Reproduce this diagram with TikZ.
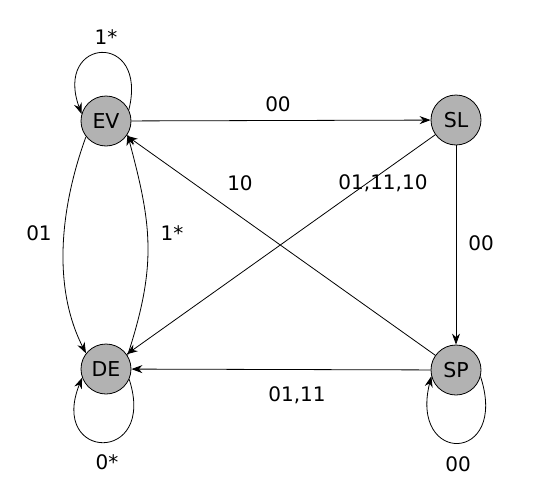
\documentclass[tikz,border=0pt]{standalone}
\usepackage{fontspec}
\setmainfont{DejaVu Sans}
\usetikzlibrary{arrows.meta}
\definecolor{stategray}{RGB}{178,178,178}
\begin{document}
\begin{tikzpicture}[x=1pt,y=1pt,
  state/.style={circle,draw=black,fill=stategray,minimum size=50pt,inner sep=0pt,line width=0.8pt,font=\fontsize{20.5}{24}\selectfont},
  edge/.style={line width=0.8pt,-{Stealth[length=11pt,width=8pt]}},
  lbl/.style={font=\fontsize{20}{24}\selectfont,inner sep=0pt}]
\useasboundingbox (0,0) rectangle (538,-498);
\node[state] (EV) at (106,-121) {EV};
\node[state] (SL) at (456,-120) {SL};
\node[state] (DE) at (106,-369) {DE};
\node[state] (SP) at (456,-370) {SP};
% straight edges
\draw[edge] (EV) -- (SL);
\draw[edge] (SL) -- (SP);
\draw[edge] (SP) -- (DE);
\draw[edge] (SP) -- (EV);
\draw[edge] (SL) -- (DE);
% curved edges
\draw[edge] (EV.-142) .. controls +(-110:75) and +(117:75) .. (DE.142);
\draw[edge] (DE.32) .. controls +(72:95) and +(-75:95) .. (EV.-32);
% loops
\draw[edge] (EV.26) .. controls +(76:82) and +(110:82) .. (EV.164);
\draw[edge] (DE.-24) .. controls +(-72:90) and +(-112:90) .. (DE.-160);
\draw[edge] (SP.-15) .. controls +(-72:92) and +(-104:92) .. (SP.-166);
% labels
\node[lbl] (l1) at (106,-37) {1*};
\node[lbl] (l2) at (278,-104) {00};
\node[lbl] (l3) at (240,-183) {10};
\node[lbl] (l4) at (383,-183) {01,11,10};
\node[lbl] (l5) at (39,-233) {01};
\node[lbl] (l6) at (172,-233) {1*};
\node[lbl] (l7) at (481,-243) {00};
\node[lbl] (l8) at (297,-395) {01,11};
\node[lbl] (l9) at (107,-462) {0*};
\node[lbl] (l10) at (458,-464) {00};
\end{tikzpicture}
\end{document}
